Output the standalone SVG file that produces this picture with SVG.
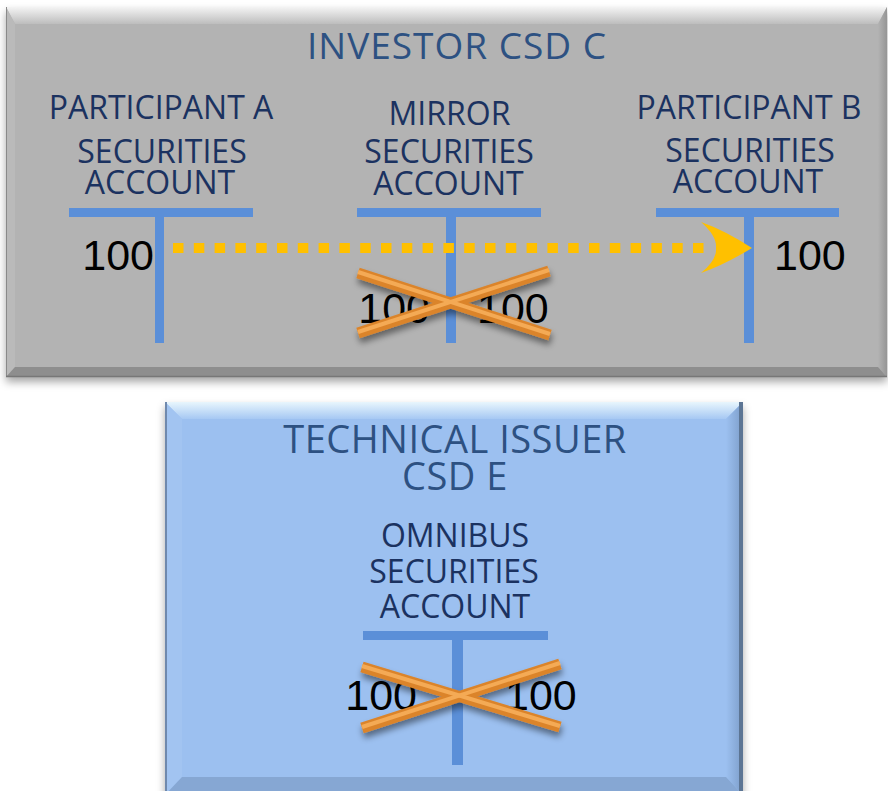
<svg xmlns="http://www.w3.org/2000/svg" width="888" height="791" viewBox="0 0 888 791">
  <defs>
    <style>
      .lbl { font-family: "Open Sans", "Noto Sans", sans-serif; font-size: 32px; fill: #1B3260; text-anchor: middle; }
      .ttl { font-family: "Open Sans", "Noto Sans", sans-serif; fill: #2D5182; text-anchor: middle; }
      .num { font-family: "Liberation Sans", Arial, sans-serif; font-size: 43px; fill: #000; }
      .tbar { fill: #5B8FD8; }
      .xline { fill: none; stroke: #DB842B; stroke-width: 11; stroke-linecap: butt; }
      .xhi { fill: none; stroke: #F4AA55; stroke-width: 4; stroke-linecap: butt; }
    </style>
    <linearGradient id="grayTop" x1="0" y1="0" x2="0" y2="1">
      <stop offset="0" stop-color="#f4f4f4"/>
      <stop offset="1" stop-color="#bdbdbd"/>
    </linearGradient>
    <linearGradient id="blueTop" x1="0" y1="0" x2="0" y2="1">
      <stop offset="0" stop-color="#e8f6fd"/>
      <stop offset="1" stop-color="#a6c8f3"/>
    </linearGradient>
    <linearGradient id="blueRight" x1="0" y1="0" x2="1" y2="0">
      <stop offset="0" stop-color="#9cc0f0"/>
      <stop offset="1" stop-color="#7c9dc9"/>
    </linearGradient>
    <linearGradient id="grayRight" x1="0" y1="0" x2="1" y2="0">
      <stop offset="0" stop-color="#b3b3b3"/>
      <stop offset="1" stop-color="#959595"/>
    </linearGradient>
    <filter id="boxShadow" x="-5%" y="-5%" width="110%" height="115%">
      <feDropShadow dx="0" dy="5" stdDeviation="4" flood-color="#000" flood-opacity="0.35"/>
    </filter>
    <filter id="crossShadow" x="-10%" y="-30%" width="120%" height="170%">
      <feDropShadow dx="1" dy="5" stdDeviation="3" flood-color="#000" flood-opacity="0.45"/>
    </filter>
  </defs>

  <rect x="0" y="0" width="888" height="791" fill="#ffffff"/>

  <!-- Investor CSD C container -->
  <g id="investor-csd-c">
    <rect x="6" y="7" width="881" height="370" fill="#b3b3b3" filter="url(#boxShadow)"/>
    <polygon points="6,7 887,7 878,24 15,24" fill="url(#grayTop)"/>
    <polygon points="6,7 15,24 15,367 6,377" fill="#bababa"/>
    <polygon points="887,7 887,377 878,367 878,24" fill="url(#grayRight)"/>
    <polygon points="6,377 887,377 878,367 15,367" fill="#8e8e8e"/>
    <line x1="6.5" y1="7" x2="6.5" y2="377" stroke="#8a8a8a" stroke-width="1"/>
    <line x1="6" y1="376.5" x2="887" y2="376.5" stroke="#777" stroke-width="1.5"/>
    <text class="ttl" x="457" y="59" font-size="37" letter-spacing="1">INVESTOR CSD C</text>
  </g>

  <!-- Participant A securities account -->
  <g id="participant-a">
    <text class="lbl" x="161" y="119">PARTICIPANT A</text>
    <text class="lbl" x="162" y="163">SECURITIES</text>
    <text class="lbl" x="160" y="194">ACCOUNT</text>
    <rect class="tbar" x="69" y="208" width="184" height="9"/>
    <rect class="tbar" x="155" y="217" width="9" height="126"/>
    <text class="num" x="154" y="270" text-anchor="end">100</text>
  </g>

  <!-- Mirror securities account -->
  <g id="mirror-account">
    <text class="lbl" x="449.5" y="125">MIRROR</text>
    <text class="lbl" x="449" y="163">SECURITIES</text>
    <text class="lbl" x="448.5" y="195">ACCOUNT</text>
    <rect class="tbar" x="357" y="208" width="184" height="9"/>
    <rect class="tbar" x="446" y="217" width="10" height="126"/>
    <text class="num" x="430" y="323" text-anchor="end">100</text>
    <text class="num" x="477" y="323">100</text>
    <g filter="url(#crossShadow)">
      <line class="xline" x1="358" y1="273" x2="550" y2="335"/>
      <line class="xline" x1="358" y1="333" x2="549" y2="271"/>
      <line class="xhi" x1="358" y1="272" x2="550" y2="334"/>
      <line class="xhi" x1="358" y1="332" x2="549" y2="270"/>
    </g>
  </g>

  <!-- Participant B securities account -->
  <g id="participant-b">
    <text class="lbl" x="749" y="119">PARTICIPANT B</text>
    <text class="lbl" x="750" y="162">SECURITIES</text>
    <text class="lbl" x="748" y="193">ACCOUNT</text>
    <rect class="tbar" x="656" y="208" width="183" height="9"/>
    <rect class="tbar" x="744" y="217" width="10" height="126"/>
    <text class="num" x="774" y="270">100</text>
  </g>

  <!-- Technical issuer CSD E container -->
  <g id="technical-issuer-csd-e">
    <rect x="165" y="402" width="578" height="393" fill="#9cc0f0" filter="url(#boxShadow)"/>
    <polygon points="165,402 743,402 726,419 182,419" fill="url(#blueTop)"/>
    <polygon points="165,402 182,419 182,777 165,795" fill="#a2c4f1"/>
    <polygon points="743,402 743,795 726,777 726,419" fill="url(#blueRight)"/>
    <polygon points="165,795 743,795 726,777 182,777" fill="#86a7d3"/>
    <line x1="166" y1="402" x2="166" y2="795" stroke="#6f89ad" stroke-width="2"/>
    <line x1="741" y1="402" x2="741" y2="795" stroke="#5c7594" stroke-width="4"/>
    <text class="ttl" x="455" y="453" font-size="38" letter-spacing="0.5">TECHNICAL ISSUER</text>
    <text class="ttl" x="455" y="490" font-size="38" letter-spacing="0.5">CSD E</text>
  </g>

  <!-- Omnibus securities account -->
  <g id="omnibus-account">
    <text class="lbl" x="455" y="547">OMNIBUS</text>
    <text class="lbl" x="454" y="583">SECURITIES</text>
    <text class="lbl" x="455" y="618">ACCOUNT</text>
    <rect class="tbar" x="363" y="631" width="185" height="9"/>
    <rect class="tbar" x="452" y="640" width="11" height="125"/>
    <text class="num" x="417" y="710" text-anchor="end">100</text>
    <text class="num" x="505" y="710">100</text>
    <g filter="url(#crossShadow)">
      <line class="xline" x1="362" y1="667" x2="560" y2="727"/>
      <line class="xline" x1="362" y1="728" x2="560" y2="664"/>
      <line class="xhi" x1="362" y1="666" x2="560" y2="726"/>
      <line class="xhi" x1="362" y1="727" x2="560" y2="663"/>
    </g>
  </g>

  <!-- Connectors -->
  <g id="connectors">
    <line x1="173" y1="248" x2="704" y2="248" stroke="#FFC000" stroke-width="10" stroke-dasharray="10.5 10.3"/>
    <path d="M752,248 Q724,230 701,222 Q717,236 716,248 Q717,260 701,273 Q724,265 752,248 Z" fill="#FFC000"/>
  </g>
</svg>
